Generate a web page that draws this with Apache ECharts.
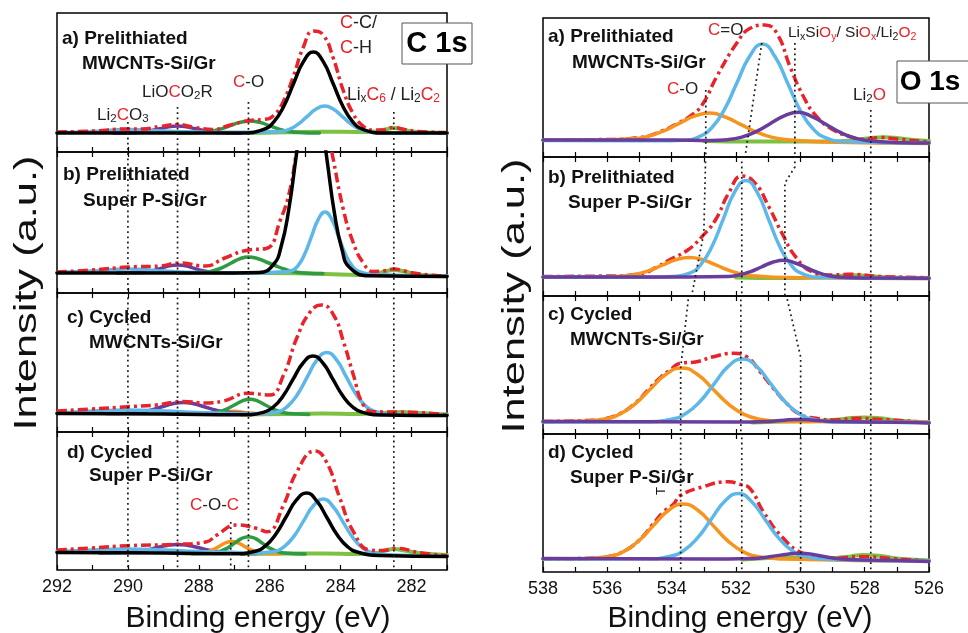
<!DOCTYPE html>
<html>
<head>
<meta charset="utf-8">
<script src="https://cdn.jsdelivr.net/npm/echarts@6/dist/echarts.min.js"></script>
<style>
  html, body { margin: 0; padding: 0; background: #fff; }
  #chart { width: 968px; height: 633px; }
</style>
</head>
<body>
<div id="chart"></div>
<script>
// ---- C 1s (left column), points are [binding energy, intensity] ----
const c1sA_black = [[292,19],[286.8,19],[286.17,22.6],[285.89,29.9],[285.61,45.3],[285.33,68.2],[285.05,90.4],[284.77,100],[284.49,90.4],[284.21,68.2],[283.93,45.3],[283.65,29.9],[283.37,22.6],[282.8,19],[281,19]];
const c1sA_blue = [[292,19.5],[291,20.5],[290,22.5],[289,21],[288,20],[286.5,19.8],[285.7,20.5],[285.45,22.6],[285.2,27.8],[284.95,35.4],[284.7,42.8],[284.45,46],[284.2,42.8],[283.95,35.4],[283.7,27.8],[283.45,22.6],[283.2,20.2],[282.6,19],[281,19]];
const c1sA_green = [[288.6,19],[287.94,19.5],[287.66,20.6],[287.39,22.9],[287.11,26.3],[286.84,29.6],[286.56,31],[286.28,29.6],[286.01,26.3],[285.74,22.9],[285.46,20.6],[285.19,19.5],[284.6,19]];
const c1sA_lgreen = [[286.5,19],[285.5,19.8],[284.5,20.3],[283.5,20],[283,20.6],[282.75,22.5],[282.5,24],[282.25,22.5],[282,20.6],[281.5,19.5],[281,19]];
const c1sA_purple = [[290.4,19],[289.85,19.3],[289.6,19.9],[289.35,21.3],[289.1,23.2],[288.85,25.2],[288.6,26],[288.35,25.2],[288.1,23.2],[287.85,21.3],[287.6,19.9],[287.35,19.3],[286.8,19]];
const c1sA_red = [[292,20],[291,21],[290,23],[289.6,23],[289.1,25.5],[288.6,27.5],[288.1,24.5],[287.6,22.5],[287.11,27],[286.56,31.5],[286.17,32.5],[285.89,36.5],[285.61,51],[285.33,76],[285.05,105],[284.77,121],[284.49,117],[284.21,94],[283.93,62],[283.65,38.5],[283.37,26],[283.09,22],[282.8,22],[282.5,24.5],[282.2,22.5],[281.8,20.5],[281,19.5]];

const c1sB_black = [[292,20],[287,20],[286.3,20.4],[285.895,28.5],[285.68,46.2],[285.465,83],[285.25,137.8],[285.035,191],[284.82,214],[284.605,188],[284.39,134.8],[284.175,80],[283.96,43.2],[283.745,25.5],[283.2,17.3],[281,16.5]];
const c1sB_blue = [[292,20.5],[291,22],[290,24],[289,22],[288,20.5],[286.5,20],[286,20.5],[285.6,21.2],[285.39,22.2],[285.2,27.4],[285.01,39.2],[284.82,56.6],[284.63,73.7],[284.44,81],[284.25,73.7],[284.06,56.6],[283.87,39.2],[283.68,27.4],[283.49,21.7],[283,18.5],[281,17]];
const c1sB_green = [[288.5,20],[287.85,20.7],[287.6,22.2],[287.35,25.2],[287.1,29.7],[286.85,34.1],[286.6,36],[286.35,34.5],[286.1,31],[285.85,27.5],[285.6,24],[285.35,21.5],[285,20],[284.5,19.5]];
const c1sB_lgreen = [[286.8,20],[286,20],[285,19.5],[284,18.5],[283.3,18],[283,19],[282.75,21.5],[282.5,23],[282.2,21.5],[281.9,19],[281.5,17.5],[281,17]];
const c1sB_purple = [[290.3,20],[289.725,20.4],[289.5,21.1],[289.275,22.6],[289.05,24.9],[288.825,27.1],[288.6,28],[288.375,27.1],[288.15,24.9],[287.925,22.6],[287.7,21.1],[287.475,20.4],[287,20]];
const c1sB_red = [[292,21],[291,23],[290,26],[289.1,27],[288.55,30],[287.8,27],[287.3,34.5],[286.6,43],[286.1,44.5],[285.7,73],[285.43,103],[285.24,141],[285.1,160],[284.8,175],[284.4,165],[284.25,141],[283.92,83],[283.64,50],[283.36,30],[283.08,21.5],[282.8,22],[282.5,24],[282.2,22],[281.85,19.5],[281,16.5]];

const c1sC_black = [[292,18.5],[289,18],[286.8,17.2],[286.18,19.6],[285.9,25],[285.62,36.2],[285.34,52.8],[285.06,69],[284.78,76],[284.5,69],[284.22,52.8],[283.94,36.2],[283.66,25],[283.38,19.6],[282.8,17],[281,16.5]];
const c1sC_blue = [[292,19],[291,21],[290,22],[289,21],[288,19.5],[287,18.5],[286.3,18.3],[285.765,20.2],[285.49,25.9],[285.215,37.7],[284.94,55.1],[284.665,72.2],[284.39,79.5],[284.115,72.2],[283.84,55.1],[283.565,37.7],[283.29,25.9],[283.015,20.2],[282.4,17.5],[281,17]];
const c1sC_green = [[288.3,17.7],[287.685,18.4],[287.46,19.7],[287.235,22.6],[287.01,26.8],[286.785,30.9],[286.56,32.7],[286.335,30.9],[286.11,26.8],[285.885,22.6],[285.66,19.7],[285.435,18.4],[284.9,17.5]];
const c1sC_orange = [[287.9,17.8],[287.35,19],[287,20.8],[286.65,19],[286.1,17.8]];
const c1sC_lgreen = [[286.8,17.5],[285.5,18],[284.5,18.5],[283.5,18],[282.8,19],[282.3,20],[281.8,19],[281,17.5]];
const c1sC_purple = [[290.6,18.5],[289.94,19],[289.64,20],[289.34,22.1],[289.04,25.2],[288.74,28.2],[288.44,29.5],[288.14,28.2],[287.84,25.2],[287.54,22.1],[287.24,20],[286.94,19],[286.3,18.3]];
const c1sC_red = [[292,21],[291,23],[290,25.3],[289.2,27],[288.44,30.5],[287.8,29],[287.3,31],[286.6,38.7],[286,37],[285.61,57],[285.24,93.7],[284.86,120],[284.53,127],[284.2,117],[283.92,90.3],[283.64,57],[283.36,27],[283.07,20.3],[282.5,20],[281.8,19.5],[281,17]];

const c1sD_black = [[292,17.5],[289,17],[287,16.2],[286.41,18.7],[286.12,24.2],[285.83,35.8],[285.54,53],[285.25,69.8],[284.96,77],[284.67,68.8],[284.38,52],[284.09,34.8],[283.8,23.2],[283.51,17.7],[282.9,14.5],[281,13.5]];
const c1sD_blue = [[292,18.5],[291,20],[290,21],[289,20],[288,18.5],[287,17.5],[286.4,17],[285.865,18.4],[285.59,23.4],[285.315,33.9],[285.04,49.4],[284.765,64.5],[284.49,71],[284.215,63.5],[283.94,48.4],[283.665,32.9],[283.39,22.4],[283.115,17.4],[282.5,15],[281,14]];
const c1sD_green = [[288.2,16.3],[287.6,17],[287.4,18.6],[287.2,21.8],[287,26.6],[286.8,31.3],[286.6,33.3],[286.4,31.3],[286.2,26.6],[286,21.8],[285.8,18.6],[285.6,17],[285,16]];
const c1sD_orange = [[288.5,16.5],[287.945,17],[287.77,18.1],[287.595,20.4],[287.42,23.8],[287.245,27.1],[287.07,28.5],[286.895,27.1],[286.72,23.8],[286.545,20.4],[286.37,18.1],[286.195,17],[285.7,16.3]];
const c1sD_purple = [[290.8,17],[290.1,17.4],[289.8,18.2],[289.5,19.8],[289.2,22.2],[288.9,24.5],[288.6,25.5],[288.3,24.5],[288,22.2],[287.7,19.8],[287.4,18.2],[287.1,17.4],[286.4,16.5]];
const c1sD_lgreen = [[286.8,16],[285.5,16.5],[284.5,16.5],[283.5,16],[283,17],[282.75,19.5],[282.5,21],[282.2,19.5],[281.8,17],[281,15]];
const c1sD_red = [[292,20],[291,22],[290,24.3],[288.6,25.7],[287.8,28],[287.49,35],[286.93,45],[286.37,41.7],[286.08,38.3],[285.61,65],[285.24,98],[284.72,119],[284.4,108],[284.02,71.7],[283.64,38.3],[283.17,20],[282.8,19.5],[282.42,21.7],[281.8,17.5],[281,14.3]];

// ---- O 1s (right column) ----
const o1sA_orange = [[538,17],[536.5,17],[535.235,18.2],[534.75,20.6],[534.265,25.8],[533.78,33.4],[533.295,40.8],[532.81,44],[532.325,39.8],[531.84,32.4],[531.355,24.8],[530.87,19.6],[530.385,17.2],[529.3,15],[526,13.5]];
const o1sA_blue = [[538,16.5],[534.5,16.3],[533.6,16.8],[533.155,20.2],[532.76,29],[532.365,47.2],[531.97,74.3],[531.575,100.7],[531.18,113],[530.785,100.2],[530.39,73.5],[529.995,46.2],[529.6,28],[529.205,19.2],[528.6,15.5],[526,14]];
const o1sA_purple = [[538,17],[534,17],[532.8,16.5],[532.26,17.3],[531.82,19.85],[531.38,25.3],[530.94,33.3],[530.5,41.1],[530.06,44.8],[529.62,40.1],[529.18,32.3],[528.74,24.3],[528.3,18.85],[527.86,16.2],[527,14.5],[526,14]];
const o1sA_green = [[533,16],[531.5,15.5],[530,15.5],[529,15.5],[528.3,17],[527.8,19],[527.4,19.7],[527,19],[526.5,17],[526,16]];
const o1sA_red = [[538,17],[536,17.5],[535,19.5],[534.3,26],[533.8,34],[533.33,43],[533.02,53.7],[532.6,80.3],[531.98,113.7],[531.56,128.7],[531.1,132],[530.73,123.7],[530.32,90.3],[529.9,60.3],[529.49,40.3],[528.97,27],[528.45,20.3],[528.04,17.7],[527.5,19.5],[527,18],[526,15]];

const o1sB_orange = [[538,19],[536.3,19],[535.55,19.9],[535.13,21.6],[534.71,25.3],[534.29,30.8],[533.87,36.2],[533.45,38.5],[533.03,36.2],[532.61,30.8],[532.19,25.3],[531.77,21.6],[531.35,19.9],[530.5,18.5],[526,17.5]];
const o1sB_blue = [[538,19],[534.5,18.8],[534,19.5],[533.44,22.8],[533.09,31.6],[532.74,50],[532.39,77.4],[532.04,104.1],[531.69,115.5],[531.34,103.6],[530.99,76.9],[530.64,49.5],[530.29,31.1],[529.94,22.3],[529.3,18.5],[526,17.5]];
const o1sB_purple = [[538,19],[533.5,19],[532.26,19.45],[531.91,21],[531.56,24.2],[531.21,29],[530.86,33.7],[530.51,35.7],[530.16,33],[529.81,28.3],[529.46,23.5],[529.11,20.3],[528.76,18.75],[527.8,18],[526,17.7]];
const o1sB_green = [[532,18.5],[530.5,18],[529.5,18.5],[528.8,20],[528.4,20.8],[527.9,20],[527.2,18.5],[526,18]];
const o1sB_red = [[538,19.5],[536,20],[535,22],[534.4,30],[534.05,36.5],[533.5,46],[533.06,59.3],[532.64,76],[532.23,102.7],[531.81,120],[531.4,112.7],[530.98,89.3],[530.57,62.7],[530.15,39.3],[529.64,24.3],[529.12,21],[528.5,21.7],[527.5,19.5],[526,18.5]];

const o1sC_orange = [[538,12.5],[536.9,12.8],[536.115,14.85],[535.63,19.7],[535.145,29.9],[534.66,45],[534.175,59.7],[533.69,66],[533.205,59.7],[532.72,45],[532.235,29.9],[531.75,19.7],[531.265,14.85],[530.5,12.5],[526,12]];
const o1sC_blue = [[538,12],[534.8,12.3],[534,14.8],[533.56,20.5],[533.12,32.5],[532.68,50.2],[532.24,67.6],[531.8,75],[531.36,67.6],[530.92,50.2],[530.48,32.5],[530.04,20.5],[529.6,14.8],[528.8,12],[526,11.5]];
const o1sC_purple = [[538,12.5],[532,12],[531,12.5],[530.5,13.8],[530.1,14.5],[529.6,13.8],[529,12.5],[527,11.8],[526,11]];
const o1sC_green = [[531.5,11.5],[530.5,12.5],[529.5,13],[528.8,14.5],[528.4,16],[528,16.5],[527.6,16],[527,13.5],[526.3,12],[526,11.5]];
const o1sC_red = [[538,12.5],[536.6,13.5],[536.115,15],[535.63,20],[535.145,30.5],[534.66,46.5],[534.3,58],[534.05,64],[533.74,70.7],[533.22,72.3],[532.7,77.3],[532.08,80.7],[531.67,77.3],[531.25,62.3],[530.84,45.7],[530.43,30.7],[530.01,19.7],[529.5,15.7],[528.98,14],[528.25,15.7],[527.5,14.5],[526,11.5]];

const o1sD_orange = [[538,13],[536.8,13.2],[535.965,15.4],[535.5,20.4],[535.035,30.9],[534.57,46.4],[534.105,61.5],[533.64,68],[533.175,61.5],[532.71,46.4],[532.245,30.9],[531.78,20.4],[531.315,15.4],[530.5,13],[526,11]];
const o1sD_blue = [[538,13],[534.8,13.2],[534.03,15.9],[533.61,21.8],[533.19,34.3],[532.77,52.8],[532.35,70.8],[531.93,78.5],[531.51,70.3],[531.09,52.3],[530.67,33.8],[530.25,21.3],[529.83,15.4],[529,12.5],[526,11]];
const o1sD_purple = [[538,13.5],[533,13],[531.5,13.5],[530.9,15.5],[530.4,17.8],[530.01,18.7],[529.6,17.5],[529.1,14.5],[528.5,12.5],[527,11.5],[526,10.5]];
const o1sD_green = [[531.8,12.5],[531,14],[530.5,14.5],[529.8,14],[529.2,13.5],[528.6,15],[528.04,17],[527.5,16],[527,13.5],[526.3,12],[526,11.5]];
const o1sD_red = [[538,13],[536.5,13.8],[535.965,15.5],[535.5,20.5],[535.035,31],[534.6,47],[534.26,60],[533.94,68],[533.74,76.3],[533.02,85.3],[532.24,90.3],[531.88,87.7],[531.57,83.7],[531.15,60.3],[530.53,33.7],[529.91,18.7],[529.08,13.7],[528.04,15.3],[527.2,13.5],[526,11]];

// dotted reference lines per panel
const guideC_a = [[[290.0,30],[290.0,0]], [[288.6,45],[288.6,0]], [[286.6,50],[286.6,0]], [[282.5,40],[282.5,0]]];
const guideC_full = [[[290.0,145],[290.0,0]], [[288.6,145],[288.6,0]], [[286.6,145],[286.6,0]], [[282.5,145],[282.5,0]]];
const guideC_d = guideC_full.concat([[[287.1,48],[287.1,0]]]);
const guideO_a = [[[532.94,67],[532.94,0]], [[531.2,114],[531.72,0]], [[530.17,114],[530.17,0]], [[527.81,47],[527.81,0]]];
const guideO_b = [[[532.94,145],[533.0,63],[533.38,0]], [[531.82,145],[531.82,0]], [[530.17,145],[530.17,129],[530.48,113],[530.48,0]], [[527.81,145],[527.81,0]]];
const guideO_c = [[[533.45,145],[533.72,66],[533.72,0]], [[531.85,145],[531.85,0]], [[530.48,145],[529.99,77],[529.99,0]], [[527.81,145],[527.81,0]]];
const guideO_d = [[[533.72,145],[533.72,0]], [[531.82,145],[531.82,0]], [[529.99,145],[529.99,0]], [[527.81,145],[527.81,0]]];

const FONT = '"Liberation Sans", Arial, sans-serif';
const STY = {
  red:    { color: '#e8232a', width: 3.5, type: [10, 4, 3, 4], cap: 'butt' },
  black:  { color: '#000000', width: 3.5 },
  blue:   { color: '#5db7e8', width: 3.5 },
  green:  { color: '#2e9a42', width: 3.5 },
  lgreen: { color: '#7cc142', width: 4 },
  purple: { color: '#6a3d9c', width: 3.5 },
  orange: { color: '#f7941d', width: 3.5 }
};

const panels = [
  { left: 57, top: 13,  width: 390, height: 139, min: 281, max: 292, guides: guideC_a,
    curves: [[c1sA_lgreen,'lgreen'],[c1sA_purple,'purple'],[c1sA_green,'green'],[c1sA_blue,'blue'],[c1sA_red,'red'],[c1sA_black,'black']] },
  { left: 57, top: 152, width: 390, height: 141, min: 281, max: 292, guides: guideC_full,
    curves: [[c1sB_lgreen,'lgreen'],[c1sB_purple,'purple'],[c1sB_green,'green'],[c1sB_blue,'blue'],[c1sB_red,'red'],[c1sB_black,'black']] },
  { left: 57, top: 293, width: 390, height: 139, min: 281, max: 292, guides: guideC_full,
    curves: [[c1sC_lgreen,'lgreen'],[c1sC_orange,'orange'],[c1sC_purple,'purple'],[c1sC_green,'green'],[c1sC_blue,'blue'],[c1sC_red,'red'],[c1sC_black,'black']] },
  { left: 57, top: 432, width: 390, height: 138, min: 281, max: 292, guides: guideC_d,
    curves: [[c1sD_lgreen,'lgreen'],[c1sD_purple,'purple'],[c1sD_orange,'orange'],[c1sD_green,'green'],[c1sD_blue,'blue'],[c1sD_red,'red'],[c1sD_black,'black']] },
  { left: 543, top: 18,  width: 386, height: 139, min: 526, max: 538, guides: guideO_a,
    curves: [[o1sA_green,'lgreen'],[o1sA_red,'red'],[o1sA_orange,'orange'],[o1sA_blue,'blue'],[o1sA_purple,'purple']] },
  { left: 543, top: 157, width: 386, height: 139, min: 526, max: 538, guides: guideO_b,
    curves: [[o1sB_green,'lgreen'],[o1sB_red,'red'],[o1sB_orange,'orange'],[o1sB_blue,'blue'],[o1sB_purple,'purple']] },
  { left: 543, top: 296, width: 386, height: 138, min: 526, max: 538, guides: guideO_c,
    curves: [[o1sC_green,'lgreen'],[o1sC_red,'red'],[o1sC_orange,'orange'],[o1sC_blue,'blue'],[o1sC_purple,'purple']] },
  { left: 543, top: 434, width: 386, height: 138, min: 526, max: 538, guides: guideO_d,
    curves: [[o1sD_green,'lgreen'],[o1sD_red,'red'],[o1sD_orange,'orange'],[o1sD_blue,'blue'],[o1sD_purple,'purple']] }
];

const grids = [], xAxes = [], yAxes = [], series = [];
const tickStyle = { show: true, inside: true, length: 5, lineStyle: { color: '#000', width: 1.2 } };

panels.forEach((p, i) => {
  const isBottom = i % 4 === 3;
  grids.push({ left: p.left, top: p.top, width: p.width, height: p.height, show: true,
    borderColor: '#000', borderWidth: 1.5, backgroundColor: 'transparent' });
  xAxes.push({
    type: 'value', gridIndex: i, min: p.min, max: p.max, interval: 1, inverse: true, position: 'bottom',
    axisLine: { show: false }, axisTick: tickStyle, splitLine: { show: false },
    axisLabel: { show: isBottom, margin: 8, fontSize: 18, color: '#111', fontFamily: FONT,
      showMinLabel: true, showMaxLabel: true,
      formatter: v => (v % 2 === 0 ? String(v) : '') }
  });
  yAxes.push({ type: 'value', gridIndex: i, min: 0, max: p.height, show: false });

  p.curves.forEach(([data, key], k) => {
    const s = STY[key];
    series.push({
      type: 'line', xAxisIndex: i, yAxisIndex: i, data: data,
      smooth: 0.5, symbol: 'none', clip: true, silent: true,
      lineStyle: { color: s.color, width: s.width, type: s.type || 'solid', cap: s.cap || 'round', join: 'round' },
      z: 2 + k
    });
  });
  p.guides.forEach(g => {
    series.push({
      type: 'line', xAxisIndex: i, yAxisIndex: i, data: g, symbol: 'none', clip: true, silent: true,
      lineStyle: { color: '#1a1a1a', width: 1.7, type: [1.8, 3.4] }, z: 20
    });
  });
});

// top-side ticks for the lower panels
panels.forEach((p, i) => {
  if (i % 4 === 0) return;
  xAxes.push({
    type: 'value', gridIndex: i, min: p.min, max: p.max, interval: 1, inverse: true, position: 'top',
    axisLine: { show: false }, axisTick: tickStyle, splitLine: { show: false }, axisLabel: { show: false }
  });
});

const rich = {
  n:  { fontSize: 17, fontFamily: FONT, fill: '#222', lineHeight: 20, verticalAlign: 'middle' },
  r:  { fontSize: 17, fontFamily: FONT, fill: '#e8232a', lineHeight: 20, verticalAlign: 'middle' },
  s:  { fontSize: 12, fontFamily: FONT, fill: '#222', lineHeight: 12, verticalAlign: 'bottom' },
  rs: { fontSize: 12, fontFamily: FONT, fill: '#e8232a', lineHeight: 12, verticalAlign: 'bottom' }
};
function rt(x, y, text, size) {
  const r = JSON.parse(JSON.stringify(rich));
  if (size) { r.n.fontSize = size; r.r.fontSize = size; r.s.fontSize = size * 0.68; r.rs.fontSize = size * 0.68; }
  return { type: 'text', x: x, y: y, z: 50, silent: true,
    style: { text: text, rich: r, align: 'left', verticalAlign: 'middle' } };
}
function bold(x, y, text) {
  return { type: 'text', x: x, y: y, z: 50, silent: true,
    style: { text: text, fontFamily: FONT, fontWeight: 'bold', fontSize: 19, fill: '#111', align: 'left', verticalAlign: 'middle' } };
}
function plain(x, y, text, size, rot, stretch) {
  return { type: 'text', x: x, y: y, z: 50, silent: true, rotation: rot || 0, scaleX: stretch || 1,
    style: { text: text, fontFamily: FONT, fontSize: size, fill: '#111', align: 'center', verticalAlign: 'middle' } };
}

const graphics = [
  // C 1s panel labels
  bold(62, 38.5, 'a) Prelithiated'), bold(82, 63.5, 'MWCNTs-Si/Gr'),
  bold(63, 175, 'b) Prelithiated'), bold(83, 201, 'Super P-Si/Gr'),
  bold(67, 317.5, 'c) Cycled'), bold(89, 343, 'MWCNTs-Si/Gr'),
  bold(67, 453, 'd) Cycled'), bold(89, 476, 'Super P-Si/Gr'),
  // O 1s panel labels
  bold(548, 37, 'a) Prelithiated'), bold(572, 63, 'MWCNTs-Si/Gr'),
  bold(548, 178, 'b) Prelithiated'), bold(568, 203, 'Super P-Si/Gr'),
  bold(548, 315, 'c) Cycled'), bold(570, 340, 'MWCNTs-Si/Gr'),
  bold(548, 453, 'd) Cycled'), bold(570, 478, 'Super P-Si/Gr'),
  // C 1s annotations
  rt(340, 23, '{r|C}{n|-C/}', 18), rt(340, 48, '{r|C}{n|-H}', 18),
  rt(233, 82, '{r|C}{n|-O}', 17),
  rt(142, 92, '{n|LiO}{r|C}{n|O}{s|2}{n|R}', 17),
  rt(97, 115, '{n|Li}{s|2}{r|C}{n|O}{s|3}', 17),
  rt(347, 95, '{n|Li}{s|x}{r|C}{rs|6}{n| / Li}{s|2}{r|C}{rs|2}', 17.5),
  rt(190, 505, '{r|C}{n|-O-}{r|C}', 17),
  // O 1s annotations
  rt(708, 30, '{r|C}{n|=O}', 17),
  rt(788, 33, '{n|Li}{s|x}{n|Si}{r|O}{rs|y}{n|/ Si}{r|O}{rs|x}{n|/Li}{s|2}{r|O}{rs|2}', 15.5),
  rt(667, 89, '{r|C}{n|-O}', 17),
  rt(853, 95, '{n|Li}{s|2}{r|O}', 17),
  { type: 'text', x: 661, y: 491, z: 50, rotation: Math.PI / 2, silent: true,
    style: { text: 'T', fontFamily: FONT, fontSize: 13, fill: '#111', align: 'center', verticalAlign: 'middle' } },
  // element boxes
  { type: 'rect', z: 40, silent: true, shape: { x: 402, y: 23, width: 70, height: 41 },
    style: { fill: '#fff', stroke: '#555', lineWidth: 1 } },
  { type: 'text', x: 437, y: 44, z: 50, silent: true,
    style: { text: 'C 1s', fontFamily: FONT, fontWeight: 'bold', fontSize: 29, fill: '#000', align: 'center', verticalAlign: 'middle' } },
  { type: 'rect', z: 40, silent: true, shape: { x: 897, y: 61, width: 80, height: 42 },
    style: { fill: '#fff', stroke: '#555', lineWidth: 1 } },
  { type: 'text', x: 930, y: 82, z: 50, silent: true,
    style: { text: 'O 1s', fontFamily: FONT, fontSize: 28, fontWeight: 'bold', fill: '#000', align: 'center', verticalAlign: 'middle' } },
  // axis titles
  plain(258, 619, 'Binding energy (eV)', 30),
  plain(740, 619, 'Binding energy (eV)', 30),
  plain(27, 293, 'Intensity (a.u.)', 31, Math.PI / 2, 1.4),
  plain(515, 296, 'Intensity (a.u.)', 31, Math.PI / 2, 1.4)
];

const chart = echarts.init(document.getElementById('chart'), null, { renderer: 'canvas' });
chart.setOption({
  backgroundColor: '#fff',
  animation: false,
  grid: grids,
  xAxis: xAxes,
  yAxis: yAxes,
  series: series,
  graphic: graphics
});
</script>
</body>
</html>
